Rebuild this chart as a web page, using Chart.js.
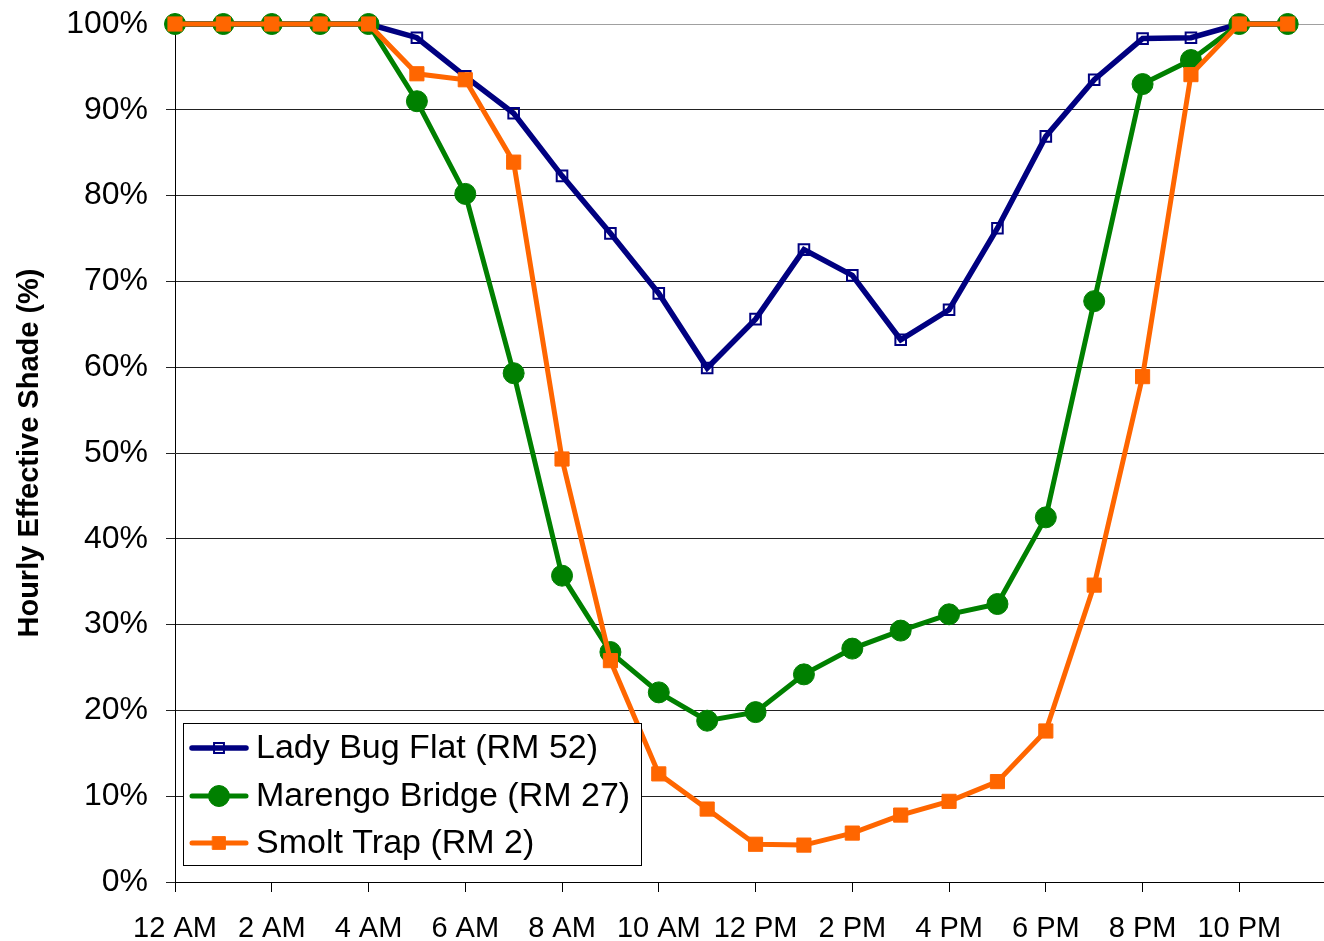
<!DOCTYPE html>
<html>
<head>
<meta charset="utf-8">
<script src="https://cdn.jsdelivr.net/npm/chart.js@4.4.1/dist/chart.umd.min.js"></script>
<style>
  html, body { margin: 0; padding: 0; background: #fff; overflow: hidden; }
  #wrap { width: 1324px; height: 941px; }
</style>
</head>
<body>
<div id="wrap"><canvas id="myChart"></canvas></div>
<script>
// hours of the day, 0 = midnight
const hours = [0, 1, 2, 3, 4, 5, 6, 7, 8, 9, 10, 11, 12, 13, 14, 15, 16, 17, 18, 19, 20, 21, 22, 23]
// tick labels, one for every second hour
const hourLabels = ['12 AM', '2 AM', '4 AM', '6 AM', '8 AM', '10 AM', '12 PM', '2 PM', '4 PM', '6 PM', '8 PM', '10 PM']
// series names
const seriesNames = ['Lady Bug Flat (RM 52)', 'Marengo Bridge (RM 27)', 'Smolt Trap (RM 2)']
// hourly effective shade (%)
const ladyBug = [100, 100, 100, 100, 100, 98.4, 93.9, 89.6, 82.3, 75.6, 68.6, 59.9, 65.6, 73.7, 70.7, 63.2, 66.7, 76.2, 86.9, 93.5, 98.3, 98.4, 100, 100]
const marengo = [100, 100, 100, 100, 100, 91.0, 80.2, 59.3, 35.7, 26.8, 22.1, 18.8, 19.8, 24.2, 27.2, 29.3, 31.2, 32.4, 42.5, 67.7, 93.0, 95.8, 100, 100]
const smolt = [100, 100, 100, 100, 100, 94.2, 93.5, 83.9, 49.3, 25.8, 12.6, 8.5, 4.4, 4.3, 5.7, 7.8, 9.4, 11.7, 17.6, 34.6, 58.9, 94.1, 100, 100]

const FONT = "'Liberation Sans', Arial, sans-serif"

// turn a series into {x, y} points
function pts(values) {
    return hours.map((h, i) => ({x: h, y: values[i]}))
}

// legend drawn inside the plot, like the original
const boxLegend = {
    id: 'boxLegend',
    afterDraw(chart) {
        const c = chart.ctx
        const box = {x: 183.5, y: 723.5, w: 458, h: 142}
        c.save()
        c.fillStyle = '#fff'
        c.fillRect(box.x, box.y, box.w, box.h)
        c.strokeStyle = '#000'
        c.lineWidth = 1
        c.strokeRect(box.x, box.y, box.w, box.h)
        const rows = [748, 796, 843]
        chart.data.datasets.forEach((ds, i) => {
            const y = rows[i]
            c.strokeStyle = ds.borderColor
            c.lineWidth = ds.borderWidth
            c.lineCap = 'round'
            c.beginPath()
            c.moveTo(192, y)
            c.lineTo(246, y)
            c.stroke()
            c.fillStyle = ds.pointBackgroundColor
            c.strokeStyle = ds.pointBorderColor
            c.lineWidth = ds.pointBorderWidth
            Chart.helpers.drawPoint(c, {
                pointStyle: ds.pointStyle,
                radius: ds.legendRadius,
                borderWidth: ds.pointBorderWidth
            }, 219, y)
            c.fillStyle = '#000'
            c.font = '34px ' + FONT
            c.textBaseline = 'middle'
            c.textAlign = 'left'
            c.fillText(ds.label, 256, y + 1)
        })
        c.restore()
    }
}

new Chart(document.getElementById('myChart'), {
    type: 'line',
    data: {
        datasets: [{
            label: seriesNames[0],
            data: pts(ladyBug),
            borderColor: '#000080',
            borderWidth: 5.5,
            pointStyle: 'rect',
            pointRadius: 7.5,
            legendRadius: 7,
            pointBackgroundColor: 'rgba(255,255,255,0)',
            pointBorderColor: '#000080',
            pointBorderWidth: 2,
            clip: false,
            order: 3
        }, {
            label: seriesNames[1],
            data: pts(marengo),
            borderColor: '#008000',
            borderWidth: 5,
            pointStyle: 'circle',
            pointRadius: 10.5,
            legendRadius: 10.5,
            pointBackgroundColor: '#008000',
            pointBorderColor: '#008000',
            pointBorderWidth: 1,
            clip: false,
            order: 2
        }, {
            label: seriesNames[2],
            data: pts(smolt),
            borderColor: '#FF6600',
            borderWidth: 5,
            pointStyle: 'rect',
            pointRadius: 10,
            legendRadius: 9,
            pointBackgroundColor: '#FF6600',
            pointBorderColor: '#FF6600',
            pointBorderWidth: 1,
            clip: false,
            order: 1
        }]
    },
    options: {
        responsive: true,
        maintainAspectRatio: false,
        animation: false,
        layout: {autoPadding: false, padding: {top: 24, right: 0, left: 0, bottom: 0}},
        plugins: {
            legend: {display: false},
            tooltip: {enabled: false}
        },
        elements: {line: {tension: 0}},
        scales: {
            x: {
                type: 'linear',
                min: 0,
                max: 23.75,
                afterBuildTicks: (axis) => {
                    axis.ticks = hourLabels.map((l, i) => ({value: i * 2}))
                },
                afterFit: (axis) => {
                    axis.height = 59
                    axis.paddingLeft = 0
                    axis.paddingRight = 0
                },
                grid: {
                    drawOnChartArea: false,
                    drawTicks: true,
                    tickLength: 10,
                    color: '#000',
                    lineWidth: 1
                },
                border: {display: true, color: '#000', width: 1},
                ticks: {
                    autoSkip: false,
                    maxRotation: 0,
                    padding: 20,
                    color: '#000',
                    font: {family: FONT, size: 29},
                    callback: (v) => hourLabels[v / 2]
                }
            },
            y: {
                min: 0,
                max: 100,
                afterFit: (axis) => {
                    axis.width = 175
                    axis.paddingTop = 0
                    axis.paddingBottom = 0
                },
                grid: {
                    drawTicks: true,
                    tickLength: 9,
                    color: (ctx) => ctx.tick && ctx.tick.value === 100 ? '#a0a0a0' : '#222',
                    lineWidth: 1
                },
                border: {display: true, color: '#000', width: 1},
                ticks: {
                    stepSize: 10,
                    padding: 18,
                    color: '#000',
                    font: {family: FONT, size: 32},
                    callback: (v) => v + '%'
                },
                title: {
                    display: true,
                    text: 'Hourly Effective Shade (%)',
                    color: '#000',
                    font: {family: FONT, size: 29, weight: 'bold'},
                    padding: {top: 13, bottom: 0}
                }
            }
        }
    },
    plugins: [boxLegend]
});
</script>
</body>
</html>
